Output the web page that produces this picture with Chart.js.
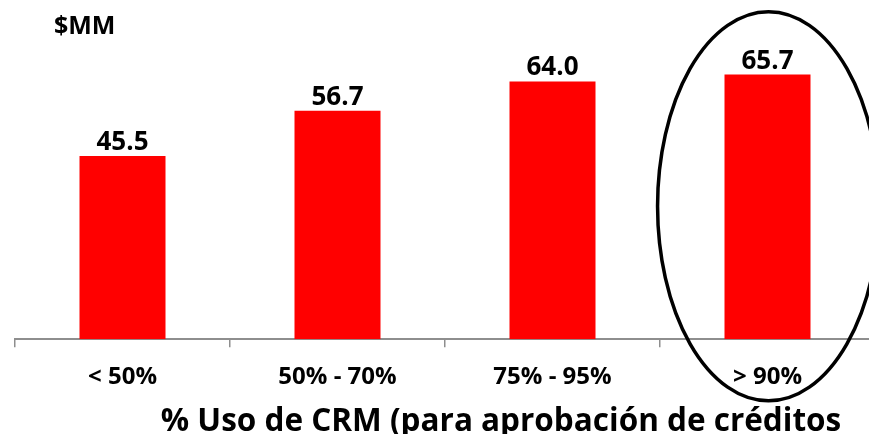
<!DOCTYPE html>
<html>
<head>
<meta charset="utf-8">
<script src="https://cdn.jsdelivr.net/npm/chart.js@4.4.1/dist/chart.umd.min.js"></script>
<style>
  html, body { margin: 0; padding: 0; background: #fff; overflow: hidden; }
  #wrap { width: 869px; height: 434px; overflow: hidden; position: relative; }
  canvas { display: block; }
</style>
</head>
<body>
<div id="wrap"><canvas id="c" width="875" height="434"></canvas></div>
<script>
const categories = ['< 50%', '50% - 70%', '75% - 95%', '> 90%'];
const values = [45.5, 56.7, 64.0, 65.7];
const unitLabel = '$MM';
const axisTitle = '% Uso de CRM (para aprobación de créditos';
const highlightIndex = 3;

const FONT = '"Open Sans", sans-serif';

const extras = {
  id: 'extras',
  afterDatasetsDraw(chart) {
    const ctx = chart.ctx;
    const meta = chart.getDatasetMeta(0);
    const xs = chart.scales.x, ys = chart.scales.y;
    ctx.save();
    // value labels
    ctx.fillStyle = '#000';
    ctx.font = 'bold 26px ' + FONT;
    ctx.textAlign = 'center';
    ctx.textBaseline = 'alphabetic';
    meta.data.forEach((bar, i) => {
      ctx.fillText(values[i].toFixed(1), bar.x, bar.y - 6);
    });
    // unit label
    ctx.textAlign = 'left';
    ctx.font = 'bold 25px ' + FONT;
    ctx.fillText(unitLabel, 54, 34);
    // axis title
    ctx.textAlign = 'center';
    ctx.font = 'bold 31.5px ' + FONT;
    ctx.fillText(axisTitle, 501, 431);
    // highlight ellipse
    const cw = xs.getPixelForValue(1) - xs.getPixelForValue(0);
    const cx = xs.getPixelForValue(highlightIndex) + 1;
    const cy = ys.getPixelForValue(33);
    const ry = ys.getPixelForValue(0) - ys.getPixelForValue(48.3);
    ctx.beginPath();
    ctx.ellipse(cx, cy, cw * 0.516, ry, 0, 0, Math.PI * 2);
    ctx.lineWidth = 3.5;
    ctx.strokeStyle = '#000';
    ctx.stroke();
    ctx.restore();
  }
};

new Chart(document.getElementById('c'), {
  type: 'bar',
  data: {
    labels: categories,
    datasets: [{
      data: values,
      backgroundColor: '#FF0000',
      borderWidth: 0,
      categoryPercentage: 1.0,
      barPercentage: 0.4
    }]
  },
  options: {
    responsive: false,
    animation: false,
    devicePixelRatio: 1,
    layout: { padding: { top: 17, left: 15, right: 0, bottom: 26 } },
    plugins: { legend: { display: false }, tooltip: { enabled: false } },
    scales: {
      y: { display: false, min: 0, max: 80 },
      x: {
        grid: { display: true, drawOnChartArea: false, drawTicks: true, tickLength: 8, color: '#8E8E8E', lineWidth: 1.5, offset: true },
        border: { display: true, color: '#8E8E8E', width: 2 },
        ticks: { color: '#000', font: { family: FONT, size: 24, weight: 'bold' }, padding: 16 },
        title: { display: false }
      }
    }
  },
  plugins: [extras]
});
</script>
</body>
</html>
